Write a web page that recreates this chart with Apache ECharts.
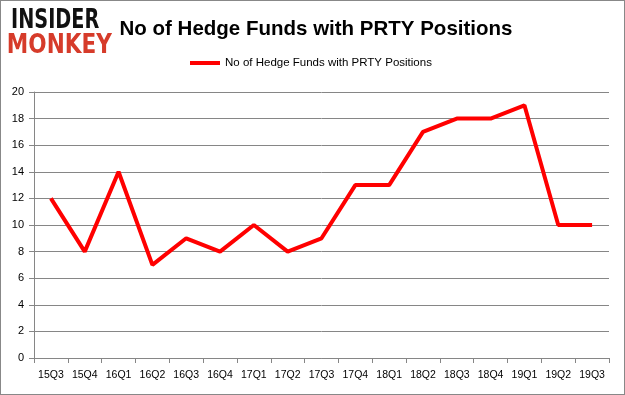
<!DOCTYPE html>
<html><head><meta charset="utf-8">
<script src="https://cdn.jsdelivr.net/npm/echarts@6/dist/echarts.min.js"></script>
<style>html,body{margin:0;padding:0;background:#fff}#c{width:625px;height:395px;box-sizing:border-box;border:1px solid #888}</style>
</head><body><div id="c"></div>
<script>
var categories = ['15Q3','15Q4','16Q1','16Q2','16Q3','16Q4','17Q1','17Q2','17Q3','17Q4','18Q1','18Q2','18Q3','18Q4','19Q1','19Q2','19Q3'];
var funds = [12,8,14,7,9,8,10,8,9,13,13,17,18,18,19,10,10];
var seriesName = 'No of Hedge Funds with PRTY Positions';
var titleText = 'No of Hedge Funds with PRTY Positions';

var chart = echarts.init(document.getElementById('c'), null, {renderer:'canvas'});
chart.setOption({
  animation:false,
  title:{text:titleText,left:310,top:13,textAlign:'center',textStyle:{fontFamily:'Liberation Sans',fontWeight:'bold',fontSize:20.5,color:'#000'}},
  graphic:[
    {type:'text',x:8,y:7,scaleX:0.74,originX:8,originY:7,style:{text:'INSIDER',fill:'#111',font:'900 26px "DejaVu Sans"'}},
    {type:'text',x:5,y:32,scaleX:0.83,originX:5,originY:32,style:{text:'MONKEY',fill:'#d63b2a',font:'900 26px "DejaVu Sans"'}}
  ],
  legend:{data:[seriesName],top:51,left:184,itemWidth:30,itemHeight:4,itemGap:4,icon:'rect',
    textStyle:{fontFamily:'Liberation Sans',fontSize:11.5,color:'#000'}},
  grid:{left:33,right:15,top:91,bottom:36},
  xAxis:{type:'category',data:categories,boundaryGap:true,
    axisLine:{lineStyle:{color:'#868686'}},axisTick:{show:true,length:5,lineStyle:{color:'#868686'}},
    axisLabel:{interval:0,color:'#000',fontFamily:'Liberation Sans',fontSize:10.5,margin:12}},
  yAxis:{type:'value',min:0,max:20,interval:2,
    axisLine:{show:true,lineStyle:{color:'#868686'}},axisTick:{show:true,length:5,lineStyle:{color:'#868686'}},
    splitLine:{lineStyle:{color:'#868686'}},
    axisLabel:{color:'#000',fontFamily:'Liberation Sans',fontSize:11,margin:10}},
  series:[{name:seriesName,type:'line',data:funds,symbol:'none',lineStyle:{color:'#ff0000',width:4},itemStyle:{color:'#ff0000'}}]
});
</script></body></html>
